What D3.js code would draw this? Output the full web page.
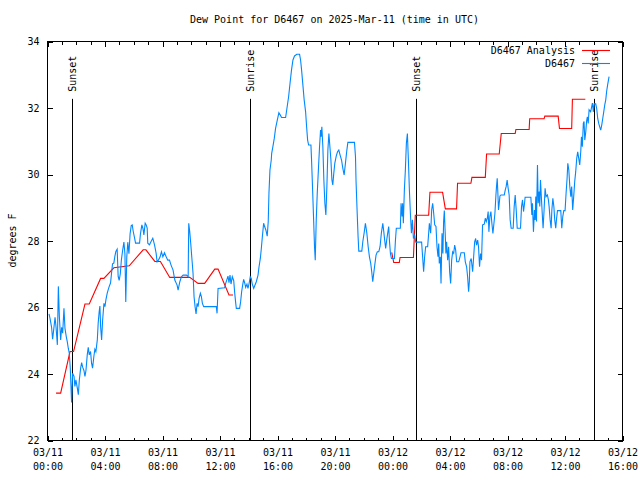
<!DOCTYPE html>
<html>
<head>
<meta charset="utf-8">
<script src="https://cdn.jsdelivr.net/npm/d3@7"></script>
<style>
html,body{margin:0;padding:0;background:#fff;}
svg{display:block;}
text{font-family:"DejaVu Sans Mono","Liberation Mono",monospace;font-size:10px;fill:#000;}
</style>
</head>
<body>
<svg id="chart" width="640" height="480"></svg>
<script>
// ---------------- data ----------------
const chartTitle = "Dew Point for D6467 on 2025-Mar-11 (time in UTC)";
const yLabel = "degrees F";
const seriesNames = ["D6467 Analysis", "D6467"];
const yTicks = [22, 24, 26, 28, 30, 32, 34];
const startUTC = Date.UTC(2025, 2, 11, 0, 0);
const spanHours = 40;

// hours after 03/11 00:00 UTC
const obsHours = [
0.14,0.21,0.32,0.39,0.49,0.56,0.63,0.72,0.79,0.86,0.95,1.02,1.09,1.18,1.25,1.34,1.41,1.48,1.55,1.62,
1.71,1.78,1.88,1.94,2.01,2.11,2.18,2.25,2.34,2.41,2.48,2.57,2.64,2.71,2.80,2.87,2.94,3.03,3.10,3.17,
3.26,3.33,3.40,3.50,3.56,3.63,3.68,3.73,3.80,3.87,3.96,4.03,4.10,4.19,4.26,4.33,4.42,4.49,4.56,4.65,
4.72,4.79,4.88,4.95,5.02,5.10,5.17,5.26,5.35,5.42,5.48,5.55,5.62,5.70,5.78,5.86,5.93,6.00,6.08,6.16,
6.25,6.44,6.50,6.60,6.68,6.74,6.83,6.90,6.97,7.01,7.13,7.24,7.36,7.48,7.59,7.66,7.75,7.87,7.96,8.06,
8.17,8.29,8.40,8.52,8.63,8.77,8.89,9.05,9.12,9.24,9.35,9.47,9.70,9.82,9.86,9.93,10.00,10.07,10.16,10.23,
10.30,10.37,10.44,10.51,10.58,10.67,10.74,10.81,10.90,11.78,11.83,11.90,12.36,12.43,12.52,12.59,12.66,12.73,12.80,12.89,
12.99,13.06,13.13,13.17,13.40,13.47,13.54,13.61,13.68,13.75,13.82,13.91,13.98,14.05,14.14,14.21,14.28,14.38,14.47,14.56,
14.68,14.75,14.84,14.91,14.98,15.07,15.14,15.23,15.32,15.39,15.44,15.51,15.60,15.63,15.72,15.81,15.90,16.02,16.13,16.23,
16.32,16.60,16.69,16.81,16.92,17.01,17.11,17.22,17.38,17.57,17.64,17.71,17.80,17.89,17.99,18.06,18.13,18.20,18.36,18.40,
18.47,18.54,18.61,18.66,18.73,18.80,18.89,18.96,19.03,19.07,19.12,19.19,19.26,19.33,19.40,19.47,19.54,19.61,19.68,19.75,
19.82,19.88,19.95,20.02,20.12,20.21,20.30,20.39,20.49,20.58,20.67,20.76,20.86,20.93,21.39,21.46,21.50,21.57,21.64,21.69,
21.90,21.97,22.06,22.15,22.25,22.34,22.43,22.52,22.59,22.66,22.73,22.80,22.89,22.98,23.08,23.17,23.26,23.36,23.43,23.49,
23.56,23.63,23.70,23.77,23.82,23.89,23.96,24.17,24.24,24.30,24.58,24.63,24.70,24.74,24.79,24.86,24.93,25.00,25.07,25.14,
25.21,25.28,25.35,25.42,25.49,25.58,25.65,26.06,26.13,26.20,26.27,26.34,26.48,26.55,26.60,26.69,26.76,26.83,26.90,26.97,
27.06,27.13,27.20,27.25,27.29,27.36,27.41,27.48,27.54,27.59,27.64,27.71,27.75,27.80,27.87,27.94,28.01,28.08,28.15,28.22,
28.29,28.36,28.43,28.50,28.64,28.73,28.80,29.03,29.10,29.19,29.26,29.33,29.38,29.42,29.51,29.61,29.68,29.75,29.82,29.88,
29.96,30.02,30.09,30.16,30.23,30.30,30.42,30.49,30.56,30.63,30.69,30.74,30.81,30.88,30.95,31.02,31.09,31.16,31.23,31.27,
31.32,31.37,31.41,31.46,31.51,31.58,31.81,31.88,31.94,32.01,32.08,32.15,32.22,32.29,32.43,32.50,32.57,32.64,32.71,32.94,
33.01,33.08,33.15,33.22,33.26,33.66,33.73,33.77,33.84,33.91,33.96,34.00,34.05,34.12,34.17,34.24,34.28,34.33,34.40,34.47,
34.51,34.58,34.65,34.72,34.81,34.88,34.93,35.00,35.07,35.12,35.19,35.26,35.32,35.39,35.44,35.51,35.74,35.81,35.88,35.95,
36.04,36.11,36.18,36.23,36.30,36.37,36.44,36.50,36.57,36.64,36.71,36.78,36.85,36.92,36.99,37.06,37.13,37.18,37.24,37.31,
37.36,37.41,37.48,37.54,37.59,37.65,37.71,37.82,37.94,38.01,38.06,38.17,38.24,38.31,38.38,38.45,38.52,38.59,38.66,38.73,
38.80,38.87,38.93,39.00,39.10
];
const obsDew = [
25.79,25.66,25.39,25.03,25.41,25.69,25.39,24.86,26.62,25.71,25.01,25.39,25.21,25.96,25.36,25.11,24.96,24.76,24.61,24.16,
23.13,24.01,23.91,23.61,23.81,23.56,23.36,23.81,24.16,24.33,24.19,24.09,23.91,24.09,24.56,24.79,24.56,24.66,24.31,24.16,
24.51,24.73,24.66,25.01,25.51,25.86,26.03,25.41,25.01,25.61,26.11,26.01,26.22,26.42,26.52,26.62,26.72,27.02,27.30,27.32,
27.52,27.67,27.74,26.92,26.80,27.00,27.40,27.70,27.95,27.60,26.15,27.50,27.95,27.60,28.20,28.45,28.47,28.27,28.10,27.92,
27.92,27.92,28.20,28.47,28.35,28.17,28.52,28.47,28.37,27.92,27.87,27.97,28.07,27.87,27.62,27.36,27.41,27.51,27.66,27.51,
27.63,27.51,27.41,27.41,27.26,27.11,26.81,26.66,26.51,26.76,26.91,26.96,26.96,26.91,28.52,28.26,27.91,27.51,27.01,26.31,
26.01,25.79,26.11,26.01,26.26,26.41,26.31,26.11,26.01,26.01,25.81,26.56,26.58,26.71,26.83,26.93,26.73,26.96,26.69,26.91,
26.79,26.41,26.11,25.96,25.96,26.16,26.46,26.66,26.83,26.73,26.59,26.69,26.56,26.69,26.91,26.86,26.69,26.56,26.66,26.76,
26.96,27.21,27.46,27.76,28.11,28.52,28.42,28.31,28.13,28.57,29.42,30.12,30.42,30.62,30.84,31.07,31.37,31.62,31.84,31.77,
31.70,31.70,31.97,32.33,32.78,33.13,33.43,33.55,33.60,33.60,33.43,33.13,32.68,32.23,31.87,31.42,31.02,30.87,30.87,30.47,
29.62,28.72,27.81,27.41,28.62,29.42,30.22,30.82,31.32,31.12,31.42,30.82,29.82,29.12,28.77,29.62,30.72,31.22,30.82,30.42,
29.82,29.67,30.02,30.32,30.54,30.67,30.72,30.57,30.42,30.17,29.97,30.32,30.72,30.95,30.95,30.52,29.77,28.92,28.12,27.68,
27.68,27.97,28.22,28.52,28.22,27.82,27.51,27.31,27.06,26.76,27.01,27.26,27.56,27.66,27.66,27.82,28.22,28.52,28.26,28.01,
27.76,28.01,28.22,28.42,28.01,27.61,27.46,27.46,28.01,28.37,28.37,29.12,28.72,29.12,28.52,29.52,30.12,30.92,31.22,30.42,
29.52,28.82,28.22,28.62,28.06,28.16,27.95,27.95,27.51,27.06,27.51,27.81,27.81,28.22,28.52,28.22,28.92,29.12,28.82,28.47,
28.42,27.81,27.51,27.91,27.31,27.51,26.71,28.22,27.61,28.57,28.90,28.11,27.61,27.96,27.41,27.81,27.06,26.71,27.41,27.66,
27.61,27.86,27.71,27.36,27.36,27.51,27.63,27.63,27.36,27.21,26.91,26.46,26.76,27.36,27.46,27.06,27.51,27.96,28.06,27.86,
28.01,27.81,27.21,27.61,27.41,28.47,28.49,28.67,28.57,28.67,28.87,28.26,28.72,28.87,28.51,28.21,28.51,28.82,29.37,29.62,
29.87,29.37,28.92,29.12,29.34,29.37,29.37,29.52,29.62,29.82,29.57,29.37,28.62,28.37,28.37,29.02,29.37,28.92,28.37,28.37,
29.02,29.22,28.87,29.12,29.30,29.30,28.77,29.12,28.26,28.92,28.62,29.32,28.57,30.27,29.12,29.47,29.02,29.82,29.22,28.67,
28.37,28.92,29.57,29.32,29.37,29.22,29.02,28.62,28.37,28.92,29.27,29.02,28.62,28.37,28.62,28.90,28.90,28.37,28.72,28.90,
28.90,29.42,29.87,30.32,30.12,29.62,29.32,29.62,28.92,29.32,29.77,30.07,30.47,30.67,30.47,30.27,30.67,31.12,30.82,31.52,
31.58,31.02,31.27,31.60,31.72,31.52,31.93,31.87,32.13,31.87,32.11,32.11,31.97,31.67,31.52,31.42,31.32,31.47,31.67,31.87,
32.08,32.23,32.48,32.68,32.93
];

// analysis (null = no data)
const anaHours = [
0.63,0.95,1.60,1.85,2.64,2.94,3.73,3.96,4.65,5.72,6.69,6.88,7.50,7.89,8.54,9.93,10.51,10.97,11.67,11.90,12.66,12.94,
18.00,
23.98,24.12,24.51,24.56,25.49,25.62,26.55,26.64,27.52,27.71,28.49,28.56,29.49,29.56,30.49,30.58,31.46,31.60,32.57,32.62,
33.54,33.58,34.58,34.63,35.56,35.65,36.50,36.55,37.45
];
const anaDew = [
23.41,23.41,24.66,24.66,26.09,26.09,26.86,26.86,27.18,27.24,27.72,27.72,27.37,27.37,26.89,26.89,26.71,26.71,27.14,27.14,26.36,26.36,
null,
27.64,27.34,27.34,27.49,27.49,28.76,28.76,29.45,29.45,28.95,28.95,29.72,29.72,29.90,29.90,30.60,30.60,31.22,31.22,31.34,
31.34,31.66,31.66,31.74,31.74,31.37,31.37,32.25,32.25,32.25
];

const sunLabels = ["Sunset", "Sunrise", "Sunset", "Sunrise"];
const sunHours = [1.71, 14.12, 25.65, 38.03];

// ---------------- drawing ----------------
const svg = d3.select("#chart");
const L = 47, R = 622, T = 41, B = 440;
const toDate = h => new Date(startUTC + h * 3600e3);

const x = d3.scaleUtc().domain([toDate(0), toDate(spanHours)]).range([L, R]);
const y = d3.scaleLinear().domain([22, 34]).range([B, T]);

const obs = obsHours.map((h, i) => ({t: toDate(h), v: obsDew[i]}));
const ana = anaHours.map((h, i) => ({t: toDate(h), v: anaDew[i]}));

const majorTicks = d3.utcHour.every(4).range(toDate(0), toDate(spanHours + 0.01));
const minorTicks = d3.utcHour.every(1).range(toDate(0), toDate(spanHours + 0.01));

// frame
svg.append("rect").attr("x", L + 0.5).attr("y", T + 0.5)
  .attr("width", R - L).attr("height", B - T)
  .attr("fill", "none").attr("stroke", "#000").attr("stroke-width", 1);

function styleAxis(g) {
  g.select(".domain").remove();
  g.selectAll("line").attr("stroke", "#000").attr("shape-rendering", "crispEdges");
}

// bottom axis (major with labels)
const fmtDate = d3.utcFormat("%m/%d"), fmtTime = d3.utcFormat("%H:%M");
const gx = svg.append("g").attr("transform", `translate(0.5,${B + 0.5})`)
  .call(d3.axisBottom(x).tickValues(majorTicks).tickSize(-5).tickPadding(8).tickFormat(""));
styleAxis(gx);
gx.selectAll(".tick text").each(function(d) {
  const t = d3.select(this).attr("y", 8).attr("dy", null);
  t.append("tspan").attr("x", 0).attr("dy", "0.71em").text(fmtDate(d));
  t.append("tspan").attr("x", 0).attr("dy", "1.4em").text(fmtTime(d));
});
gx.selectAll("text").attr("font-family", null).attr("font-size", null);
// bottom minor
styleAxis(svg.append("g").attr("transform", `translate(0.5,${B + 0.5})`)
  .call(d3.axisBottom(x).tickValues(minorTicks).tickSize(-3).tickFormat("")));
// top mirror
styleAxis(svg.append("g").attr("transform", `translate(0.5,${T + 0.5})`)
  .call(d3.axisTop(x).tickValues(majorTicks).tickSize(-5).tickFormat("")));
styleAxis(svg.append("g").attr("transform", `translate(0.5,${T + 0.5})`)
  .call(d3.axisTop(x).tickValues(minorTicks).tickSize(-3).tickFormat("")));

// left axis
const gy = svg.append("g").attr("transform", `translate(${L + 0.5},0.5)`)
  .call(d3.axisLeft(y).tickValues(yTicks).tickSize(-5).tickPadding(8).tickFormat(d3.format("d")));
styleAxis(gy);
gy.selectAll("text").attr("font-family", null).attr("font-size", null);
// right mirror
styleAxis(svg.append("g").attr("transform", `translate(${R + 0.5},0.5)`)
  .call(d3.axisRight(y).tickValues(yTicks).tickSize(-5).tickFormat("")));

// sunrise / sunset markers
const markTopY = T + (B - T) * 0.145;
sunHours.forEach((h, i) => {
  const px = Math.round(x(toDate(h))) + 0.5;
  svg.append("line").attr("x1", px).attr("x2", px).attr("y1", B).attr("y2", markTopY)
    .attr("stroke", "#000").attr("stroke-width", 1);
  svg.append("text").attr("transform", `translate(${px},${markTopY - 7}) rotate(-90)`)
    .attr("dy", "0.35em").attr("text-anchor", "start").text(sunLabels[i]);
});

// lines
const line = d3.line().defined(d => d.v != null).x(d => x(d.t)).y(d => y(d.v));
svg.append("path").datum(ana).attr("d", line)
  .attr("fill", "none").attr("stroke", "#ff0000").attr("stroke-width", 1.1);
svg.append("path").datum(obs).attr("d", line)
  .attr("fill", "none").attr("stroke", "#0088ff").attr("stroke-width", 1.1);

// legend
const legColors = ["#ff0000", "#0088ff"];
seriesNames.forEach((n, i) => {
  const ly = 50 + i * 13;
  svg.append("text").attr("x", 575).attr("y", ly).attr("dy", "0.35em")
    .attr("text-anchor", "end").text(n);
  svg.append("line").attr("x1", 582).attr("x2", 610).attr("y1", ly + 0.5).attr("y2", ly + 0.5)
    .attr("stroke", legColors[i]).attr("stroke-width", 1.1);
});

// title and y label
svg.append("text").attr("x", (L + R) / 2).attr("y", 19).attr("dy", "0.35em")
  .attr("text-anchor", "middle").text(chartTitle);
svg.append("text").attr("transform", `translate(12,${(T + B) / 2}) rotate(-90)`)
  .attr("dy", "0.35em").attr("text-anchor", "middle").text(yLabel);
</script>
</body>
</html>
